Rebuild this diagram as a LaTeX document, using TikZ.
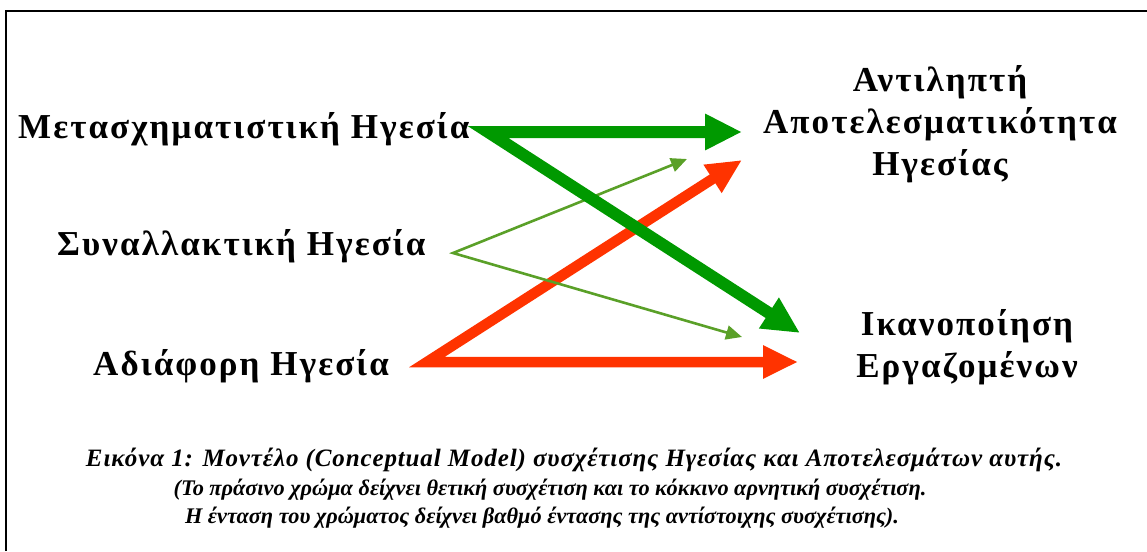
\documentclass[tikz,border=0pt]{standalone}
\usepackage{fontspec}
\setmainfont{Liberation Serif}
\newfontfamily\lblfont[LetterSpace=6]{Liberation Serif}
\newfontfamily\capwide[LetterSpace=3.5]{Liberation Serif}
\usetikzlibrary{arrows.meta}
\definecolor{gthick}{RGB}{0,153,0}
\definecolor{gthin}{RGB}{90,160,40}
\definecolor{rthick}{RGB}{255,51,0}
\tikzset{
  lbl/.style={inner sep=0pt, font=\lblfont\bfseries\fontsize{35}{42}\selectfont},
  captxt/.style={inner sep=0pt, anchor=base, font=\bfseries\itshape\fontsize{22.3}{28}\selectfont},
  captop/.style={inner sep=0pt, anchor=base, font=\capwide\bfseries\itshape\fontsize{25}{28}\selectfont},
  thickg/.style={draw=gthick, line width=12pt, line join=miter,
    {Triangle[length=37pt,width=34pt]}-{Triangle[length=37pt,width=34pt]}},
  thickr/.style={draw=rthick, line width=10.5pt, line join=miter,
    {Triangle[length=35pt,width=31pt]}-{Triangle[length=35pt,width=31pt]}},
  thing/.style={draw=gthin, line width=2.6pt, line join=miter,
    {Triangle[length=16pt,width=14pt]}-{Triangle[length=16pt,width=14pt]}},
}
\begin{document}
\begin{tikzpicture}[x=1pt,y=-1pt]
\useasboundingbox (0,0) rectangle (1147,551);
\draw[line width=1.5pt] (6,551) -- (6,11) -- (1147,11);

\node[lbl, anchor=base west] (mt) at (18,138) {Μετασχηματιστική Ηγεσία};
\node[lbl, anchor=base west] (sy) at (57,255) {Συναλλακτική Ηγεσία};
\node[lbl, anchor=base west] (ad) at (93,375) {Αδιάφορη Ηγεσία};
\node[lbl, align=center] (ap) at (940,124) {Αντιληπτή\\Αποτελεσματικότητα\\Ηγεσίας};
\node[lbl, align=center] (ik) at (967,347) {Ικανοποίηση\\Εργαζομένων};

\coordinate (mtj) at (488,132);
\coordinate (syj) at (453,253);
\coordinate (adj) at (427,362);
\coordinate (apa) at (742,132);
\coordinate (apb) at (687,159);
\coordinate (apc) at (742,160);
\coordinate (ika) at (800,333);
\coordinate (ikb) at (742,337);
\coordinate (ikc) at (798,362);

\path[thickr] (apc) -- (adj) -- (ikc);
\path[thing] (apb) -- (syj) -- (ikb);
\path[thickg] (apa) -- (mtj) -- (ika);

\node[captop] (c1) at (574,466) {Εικόνα 1: Μοντέλο (Conceptual Model) συσχέτισης Ηγεσίας και Αποτελεσμάτων αυτής.};
\node[captxt] (c2) at (550,495) {(Το πράσινο χρώμα δείχνει θετική συσχέτιση και το κόκκινο αρνητική συσχέτιση.};
\node[captxt] (c3) at (542,523) {Η ένταση του χρώματος δείχνει βαθμό έντασης της αντίστοιχης συσχέτισης).};
\end{tikzpicture}
\end{document}
